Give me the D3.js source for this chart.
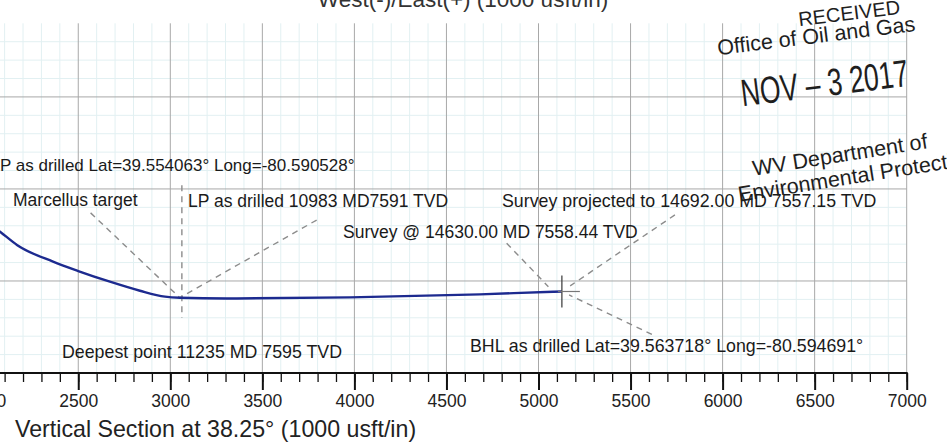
<!DOCTYPE html>
<html>
<head>
<meta charset="utf-8">
<script src="https://cdn.jsdelivr.net/npm/d3@7"></script>
<style>
  body { margin: 0; background: #fff; }
  svg { display: block; font-family: "Liberation Sans", Arial, sans-serif; }
</style>
</head>
<body>
<svg id="chart" width="947" height="444"></svg>
<script>
const width = 947;
const height = 444;
const svg = d3.select('#chart');

// Wellbore trace, vertical section (ft) vs TVD (ft)
const vsValues  = [2000, 2075, 2167, 2363, 2500, 2672, 2835, 2971, 3052, 3304, 3976, 4682, 5080, 5127];
const tvdValues = [7175, 7232, 7304, 7395, 7446, 7504, 7553, 7585, 7591, 7595, 7589, 7573, 7558.44, 7557.15];

const majorTicks = d3.range(2000, 7001, 500);
const minorTicks = d3.range(2000, 7001, 100);
const tvdMajor = [6500, 7000, 7500];
const tvdMinor = d3.range(6200, 8000, 100);

const lpPoint = [3052, 7591];
const surveyPoint = [5080, 7558.44];
const endPoint = [5127, 7557.15];

const labels = [
  'P as drilled Lat=39.554063° Long=-80.590528°',
  'Marcellus target',
  'LP as drilled 10983 MD7591 TVD',
  'Survey projected to 14692.00 MD 7557.15 TVD',
  'Survey @ 14630.00 MD 7558.44 TVD',
  'Deepest point 11235 MD 7595 TVD',
  'BHL as drilled Lat=39.563718° Long=-80.594691°'
];

// scales (same ft/px both ways)
const x = d3.scaleLinear().domain([2000, 7000]).range([-13.8, 906.7]);
const y = d3.scaleLinear().domain([6100, 8000]).range([23.3, 373]);

// minor grid
const grid = svg.append('g');
grid.selectAll('.vmin').data(minorTicks.filter(d => d % 500))
  .enter().append('line')
  .attr('x1', d => x(d)).attr('x2', d => x(d))
  .attr('y1', y(6100)).attr('y2', y(8000))
  .attr('stroke', '#e2f0f2').attr('stroke-width', 1);
grid.selectAll('.hmin').data(tvdMinor.filter(d => d % 500))
  .enter().append('line')
  .attr('x1', 0).attr('x2', x(7000))
  .attr('y1', d => y(d)).attr('y2', d => y(d))
  .attr('stroke', '#e2f0f2').attr('stroke-width', 1);

// major grid
grid.selectAll('.vmaj').data(majorTicks)
  .enter().append('line')
  .attr('x1', d => x(d)).attr('x2', d => x(d))
  .attr('y1', y(6100)).attr('y2', y(8000))
  .attr('stroke', '#a8a8a8').attr('stroke-width', 1);
grid.selectAll('.hmaj').data(tvdMajor)
  .enter().append('line')
  .attr('x1', 0).attr('x2', x(7000))
  .attr('y1', d => y(d)).attr('y2', d => y(d))
  .attr('stroke', '#a8a8a8').attr('stroke-width', 1);

// x axis
const axis = svg.append('g').attr('transform', `translate(0,${y(8000)})`);
axis.call(d3.axisBottom(x).tickValues(minorTicks).tickSize(9).tickFormat(''))
  .call(g => g.select('.domain').remove())
  .call(g => g.selectAll('line').attr('stroke', '#111').attr('stroke-width', 1.3));
axis.append('g')
  .call(d3.axisBottom(x).tickValues(majorTicks).tickSize(17).tickPadding(5).tickFormat(d3.format('d')))
  .call(g => g.select('.domain').remove())
  .call(g => g.selectAll('line').attr('stroke', '#111').attr('stroke-width', 2))
  .call(g => g.selectAll('text').attr('font-size', 17.5).attr('fill', '#222')
    .attr('font-family', '"Liberation Sans", Arial, sans-serif'));
axis.append('line')
  .attr('x1', 0).attr('x2', x(7000) + 1)
  .attr('stroke', '#111').attr('stroke-width', 2);

svg.append('text')
  .attr('x', 15).attr('y', 437)
  .attr('font-size', 23.2).attr('fill', '#222')
  .text('Vertical Section at 38.25° (1000 usft/in)');

svg.append('text')
  .attr('x', 463).attr('y', 7)
  .attr('text-anchor', 'middle')
  .attr('font-size', 22.5).attr('fill', '#333')
  .text('West(-)/East(+) (1000 usft/in)');

// leaders
const leaders = [
  [[2567, 7130], lpPoint, 0],
  [[3795, 7169], lpPoint, 0],
  [[4827, 7295], surveyPoint, 7],
  [[5741, 7141], endPoint, 10],
  [[5616, 7790], endPoint, 8]
];
const lg = svg.append('g').attr('stroke', '#8c8c8c').attr('stroke-width', 1.4)
  .attr('stroke-dasharray', '6,5').attr('fill', 'none');
leaders.forEach(([a, b, gap]) => {
  const x1 = x(a[0]), y1 = y(a[1]), x2 = x(b[0]), y2 = y(b[1]);
  const len = Math.hypot(x2 - x1, y2 - y1);
  const k = (len - gap) / len;
  lg.append('line').attr('x1', x1).attr('y1', y1)
    .attr('x2', x1 + (x2 - x1) * k).attr('y2', y1 + (y2 - y1) * k);
});
lg.append('line')
  .attr('x1', x(lpPoint[0]) + 2).attr('x2', x(lpPoint[0]) + 2)
  .attr('y1', y(6980)).attr('y2', y(7700));

// well path
const line = d3.line().x((d, i) => x(d)).y((d, i) => y(tvdValues[i])).curve(d3.curveMonotoneX);
svg.append('path')
  .attr('d', line(vsValues))
  .attr('fill', 'none').attr('stroke', '#1c2a8f').attr('stroke-width', 2.4);

// end marker
const ex = x(endPoint[0]), ey = y(endPoint[1]);
svg.append('line').attr('x1', ex).attr('x2', ex).attr('y1', ey - 16).attr('y2', ey + 16)
  .attr('stroke', '#444').attr('stroke-width', 1.3);
svg.append('line').attr('x1', ex - 4).attr('x2', ex + 18).attr('y1', ey).attr('y2', ey)
  .attr('stroke', '#777').attr('stroke-width', 1.2);

// annotation text
const labelPos = [[0, 171], [13, 206], [188, 207], [502, 207], [343, 238], [62, 358], [470, 352]];
const labelSize = [17, 17.5, 17.5, 17.8, 17.5, 17.8, 17.8];
svg.append('g').selectAll('text').data(labels)
  .enter().append('text')
  .attr('x', (d, i) => labelPos[i][0]).attr('y', (d, i) => labelPos[i][1])
  .attr('font-size', (d, i) => labelSize[i]).attr('fill', '#1a1a1a')
  .text(d => d);

// received stamp
const stamp = svg.append('g').attr('fill', '#1e1e1e');
stamp.append('text').attr('transform', 'translate(850,20) rotate(-7)')
  .attr('text-anchor', 'middle').attr('font-size', 20).text('RECEIVED');
stamp.append('text').attr('transform', 'translate(817,43) rotate(-7)')
  .attr('text-anchor', 'middle').attr('font-size', 21.5).text('Office of Oil and Gas');
stamp.append('text').attr('transform', 'translate(826,96) rotate(-7) scale(0.7,1)')
  .attr('text-anchor', 'middle').attr('font-size', 38)
  .text('NOV – 3 2017');
stamp.append('text').attr('transform', 'translate(841,162) rotate(-9)')
  .attr('text-anchor', 'middle').attr('font-size', 21.5).text('WV Department of');
stamp.append('text').attr('transform', 'translate(858,183) rotate(-9)')
  .attr('text-anchor', 'middle').attr('font-size', 21.5).text('Environmental Protection');
</script>
</body>
</html>
